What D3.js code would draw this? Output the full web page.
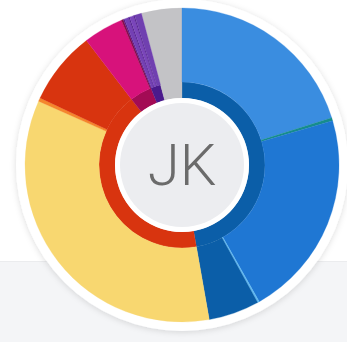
<!DOCTYPE html>
<html>
<head>
<meta charset="utf-8">
<script src="https://cdn.jsdelivr.net/npm/d3@7"></script>
<style>
  html, body { margin: 0; padding: 0; background: #ffffff; }
  svg { display: block; }
</style>
</head>
<body>
<svg id="chart" width="347" height="342"></svg>
<script>
// Inner ring: top-level groups
const groups = ["blue", "red", "pink", "purple", "gray"];

// Outer ring: segments, the group each belongs to, and its share
const segments = [
  "blue-a", "blue-b", "blue-c", "blue-d", "blue-e",
  "red-a", "red-b", "red-c",
  "pink-a", "pink-b",
  "purple-a", "purple-b", "purple-c", "purple-d", "purple-e", "purple-f"
];
const segmentGroup = [
  "blue", "blue", "blue", "blue", "blue",
  "red", "red", "red",
  "pink", "pink",
  "purple", "purple", "purple", "purple", "purple", "purple"
];
const segmentValues = [
  72.5, 1.1, 76.9, 0.7, 18.8,
  124.0, 1.3, 27.2,
  14.8, 0.7,
  0.5, 1.6, 0.4, 1.5, 0.4, 2.6
];
// The gray group has no breakdown and fills both rings
const groupOwnValues = [0, 0, 0, 0, 15.0];

// Palette
const groupPalette = ["#0b5ea8", "#d8340f", "#a30b55", "#4a1a8c", "#c3c3c6"];
const segmentPalette = [
  "#3a8de0", "#168c8c", "#1f77d3", "#5fb8f0", "#0b5ea8",
  "#f8d770", "#f5862c", "#d8340f",
  "#d7127b", "#8a0a4a",
  "#5a1a86", "#7440b4", "#4f1a8a", "#7a46ba", "#54208f", "#7040b0"
];

const W = 347, H = 342;
const cx = 182, cy = 165;
const rDisc = 62, rInnerRing = 67, rMid = 83, rOuter = 157, rFrame = 166;

const svg = d3.select("#chart");

// Page background with a lighter band at the bottom
svg.append("rect").attr("x", 0).attr("y", 0).attr("width", W).attr("height", H).attr("fill", "#ffffff");
svg.append("rect").attr("x", 0).attr("y", 261).attr("width", W).attr("height", H - 261).attr("fill", "#f4f5f7");
svg.append("rect").attr("x", 0).attr("y", 261).attr("width", W).attr("height", 1).attr("fill", "#ebecee");

const defs = svg.append("defs");
const shadow = defs.append("filter").attr("id", "frameShadow")
  .attr("x", "-20%").attr("y", "-20%").attr("width", "140%").attr("height", "140%");
shadow.append("feDropShadow").attr("dx", 0).attr("dy", 1).attr("stdDeviation", 3)
  .attr("flood-color", "#000").attr("flood-opacity", 0.14);

const g = svg.append("g").attr("transform", `translate(${cx},${cy})`);

// White frame around the sunburst
g.append("circle").attr("r", rFrame).attr("fill", "#ffffff").attr("filter", "url(#frameShadow)");

// Build the hierarchy from the arrays
const rootData = {
  name: "root",
  children: groups.map((grp, i) => {
    const kids = segments
      .map((s, j) => ({ name: s, value: segmentValues[j], color: segmentPalette[j], group: segmentGroup[j] }))
      .filter(d => d.group === grp);
    return kids.length
      ? { name: grp, color: groupPalette[i], children: kids }
      : { name: grp, color: groupPalette[i], value: groupOwnValues[i] };
  })
};

const root = d3.hierarchy(rootData).sum(d => d.value || 0);
d3.partition().size([2 * Math.PI, 1])(root);

const arc = d3.arc()
  .startAngle(d => d.x0)
  .endAngle(d => d.x1)
  .innerRadius(d => d.depth === 1 ? rInnerRing : rMid)
  .outerRadius(d => d.depth === 1 ? (d.children ? rMid : rOuter) : rOuter);

g.selectAll("path.node")
  .data(root.descendants().filter(d => d.depth > 0))
  .join("path")
  .attr("class", "node")
  .attr("d", arc)
  .attr("fill", d => d.data.color)
  .attr("stroke", d => d.data.color)
  .attr("stroke-width", 0.3);

// Center disc with initials
g.append("circle").attr("r", rInnerRing).attr("fill", "#ffffff");
g.append("circle").attr("r", rDisc).attr("fill", "#ecedf0");
g.append("text")
  .attr("x", 0).attr("y", 20)
  .attr("text-anchor", "middle")
  .attr("font-family", "Roboto, 'Open Sans', sans-serif")
  .attr("font-weight", 300)
  .attr("font-size", 58)
  .attr("fill", "#6b6b6b")
  .text("JK");
</script>
</body>
</html>
